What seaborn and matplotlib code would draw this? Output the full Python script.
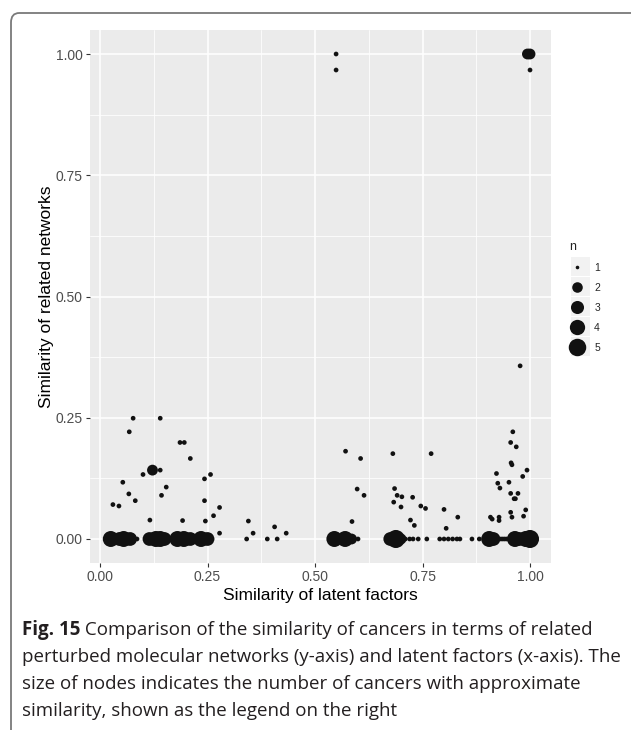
import numpy as np
import pandas as pd
import matplotlib
matplotlib.use("Agg")
import matplotlib.pyplot as plt
from matplotlib.patches import FancyBboxPatch, Rectangle
from matplotlib.lines import Line2D
import seaborn as sns

# ---------------- data ----------------
# similarity of latent factors (x)
lf_top = [0.549, 0.549, 0.994, 1.000, 1.000, 0.977]
net_top = [1.000, 0.967, 1.000, 1.000, 0.967, 0.357]
n_top = [1, 1, 2, 2, 1, 1]

lf_left = [0.077, 0.140, 0.068, 0.186, 0.196, 0.210, 0.122, 0.140, 0.100, 0.053,
           0.243, 0.257, 0.154, 0.067, 0.143, 0.082, 0.243, 0.030, 0.044, 0.278,
           0.116, 0.192, 0.245, 0.264, 0.278, 0.345, 0.356, 0.406, 0.433]
net_left = [0.249, 0.249, 0.221, 0.199, 0.199, 0.166, 0.142, 0.142, 0.133, 0.117,
            0.124, 0.133, 0.107, 0.093, 0.090, 0.079, 0.079, 0.071, 0.068, 0.065,
            0.039, 0.038, 0.037, 0.048, 0.012, 0.037, 0.012, 0.025, 0.012]
n_left = [1, 1, 1, 1, 1, 1, 2, 1, 1, 1,
          1, 1, 1, 1, 1, 1, 1, 1, 1, 1,
          1, 1, 1, 1, 1, 1, 1, 1, 1]

lf_mid = [0.571, 0.606, 0.598, 0.614, 0.586, 0.681, 0.770, 0.685, 0.691, 0.702,
          0.727, 0.683, 0.700, 0.746, 0.757, 0.722, 0.731, 0.800, 0.832, 0.805]
net_mid = [0.181, 0.166, 0.103, 0.090, 0.036, 0.176, 0.176, 0.104, 0.090, 0.087,
           0.086, 0.076, 0.066, 0.068, 0.063, 0.039, 0.028, 0.061, 0.045, 0.022]
n_mid = [1] * 20

lf_right = [0.960, 0.955, 0.968, 0.956, 0.958, 0.922, 0.993, 0.983, 0.925, 0.930,
            0.951, 0.955, 0.972, 0.963, 0.966, 0.990, 0.955, 0.958, 0.985, 0.908,
            0.912, 0.928, 0.928]
net_right = [0.221, 0.199, 0.190, 0.157, 0.153, 0.135, 0.142, 0.129, 0.115, 0.105,
             0.117, 0.094, 0.094, 0.083, 0.083, 0.060, 0.055, 0.045, 0.047, 0.045,
             0.041, 0.045, 0.038]
n_right = [1] * 23

lf_zero = [0.025, 0.045, 0.055, 0.070, 0.080, 0.086,
           0.115, 0.130, 0.140, 0.150, 0.160,
           0.180, 0.195, 0.210, 0.220,
           0.235, 0.250, 0.260,
           0.341, 0.389, 0.412,
           0.545, 0.570, 0.585, 0.600,
           0.675, 0.688, 0.700, 0.710, 0.720, 0.728, 0.740, 0.760,
           0.790, 0.800, 0.810, 0.820, 0.830, 0.837,
           0.865, 0.882,
           0.905, 0.915, 0.925, 0.930, 0.935, 0.940, 0.945, 0.950,
           0.965, 0.975, 0.990, 1.000]
n_zero = [4, 3, 4, 3, 1, 1,
          3, 4, 4, 3, 1,
          4, 4, 3, 1,
          4, 3, 1,
          1, 1, 1,
          4, 4, 2, 1,
          3, 5, 2, 1, 1, 1, 1, 1,
          1, 1, 1, 1, 1, 1,
          1, 1,
          4, 3, 1, 1, 1, 1, 1, 1,
          4, 3, 4, 5]
net_zero = [0.0] * len(lf_zero)

size_levels = [1, 2, 3, 4, 5]
x_ticks = [0.00, 0.25, 0.50, 0.75, 1.00]
y_ticks = [0.00, 0.25, 0.50, 0.75, 1.00]
x_title = "Similarity of latent factors"
y_title = "Similarity of related networks"
caption_bold = "Fig. 15"
caption_lines = [
    " Comparison of the similarity of cancers in terms of related",
    "perturbed molecular networks (y-axis) and latent factors (x-axis). The",
    "size of nodes indicates the number of cancers with approximate",
    "similarity, shown as the legend on the right",
]

df = pd.DataFrame({
    "lf": lf_top + lf_left + lf_mid + lf_right + lf_zero,
    "net": net_top + net_left + net_mid + net_right + net_zero,
    "n": n_top + n_left + n_mid + n_right + n_zero,
})

# ---------------- style ----------------
sns.set_theme(style="darkgrid", rc={
    "axes.facecolor": "#EBEBEB",
    "grid.color": "white",
})
plt.rcParams["font.family"] = ["Liberation Sans", "DejaVu Sans"]

W, H = 631, 730
fig = plt.figure(figsize=(W / 100, H / 100), dpi=100)

def fx(px):
    return px / W

def fy(py):
    return 1 - py / H

ax = fig.add_axes([fx(90), fy(563), fx(551) - fx(90), fy(30) - fy(563)])

# marker diameter (pt) for each n (ggplot area scale)
diam_pt = {1: 3.4, 2: 7.8, 3: 9.9, 4: 11.5, 5: 13.0}
size_map = {k: v ** 2 for k, v in diam_pt.items()}

sns.scatterplot(data=df, x="lf", y="net", size="n", sizes=size_map,
                size_order=size_levels, color="#111111", linewidth=0,
                alpha=1, legend=False, ax=ax, zorder=3)

ax.set_xlim(-0.0233, 1.0488)
ax.set_ylim(-0.0495, 1.0495)
ax.set_xticks(x_ticks)
ax.set_yticks(y_ticks)
ax.set_xticklabels([f"{t:.2f}" for t in x_ticks])
ax.set_yticklabels([f"{t:.2f}" for t in y_ticks])
ax.set_xticks([0.125, 0.375, 0.625, 0.875], minor=True)
ax.set_yticks([0.125, 0.375, 0.625, 0.875], minor=True)
ax.grid(which="major", color="white", linewidth=1.1)
ax.grid(which="minor", color="white", linewidth=0.55)
ax.tick_params(which="major", direction="out", length=3.2, width=0.8,
               color="#333333", labelsize=10, labelcolor="#4D4D4D", pad=2,
               left=True, bottom=True)
ax.tick_params(which="minor", length=0)
for s in ax.spines.values():
    s.set_visible(False)
ax.set_xlabel(x_title, fontsize=12.5, color="black", labelpad=3)
ax.set_ylabel(y_title, fontsize=12.5, color="black", labelpad=1)

# ---------------- legend (ggplot-like size guide) ----------------
leg_diam = {1: 2.6, 2: 7.6, 3: 9.4, 4: 11.0, 5: 12.6}
handles = [Line2D([], [], linestyle="", marker="o", color="#111111",
                  markersize=leg_diam[k], markeredgewidth=0) for k in size_levels]
leg = fig.legend(handles, [str(k) for k in size_levels], title="n",
                 loc="upper left", bbox_to_anchor=(fx(564), fy(236)),
                 frameon=False, fontsize=7.5, title_fontsize=9,
                 labelspacing=0.95, handletextpad=0.9, handlelength=1.5,
                 borderpad=0, alignment="left")
leg.get_title().set_color("#222222")
for i, k in enumerate(size_levels):
    cy = 266 + 20.2 * i
    fig.patches.append(Rectangle((fx(571), fy(cy + 9.5)), fx(19), fy(0) - fy(19),
                                 transform=fig.transFigure, facecolor="#F2F2F2",
                                 edgecolor="none", zorder=-1))

# ---------------- frame ----------------
frame = FancyBboxPatch((fx(11), fy(760)), fx(700), fy(0) - fy(747),
                       boxstyle="round,pad=0,rounding_size=0.013",
                       transform=fig.transFigure, facecolor="none",
                       edgecolor="#7A7A7A", linewidth=1.3, clip_on=False)
fig.patches.append(frame)

# ---------------- caption ----------------
cap_fs = 13.5
cap_font = ["Open Sans", "DejaVu Sans"]
fig.canvas.draw()
renderer = fig.canvas.get_renderer()
tb = fig.text(fx(22), fy(630), caption_bold, fontsize=cap_fs, fontweight="bold",
              family=cap_font, va="center", ha="left", color="#231F20")
bb = tb.get_window_extent(renderer)
x_after = bb.x1 / W
fig.text(x_after, fy(630), caption_lines[0], fontsize=cap_fs, family=cap_font,
         va="center", ha="left", color="#231F20")
for i, line in enumerate(caption_lines[1:]):
    fig.text(fx(22), fy(657 + 27 * i), line, fontsize=cap_fs, family=cap_font,
             va="center", ha="left", color="#231F20")

fig.savefig("out.png", dpi=100)
